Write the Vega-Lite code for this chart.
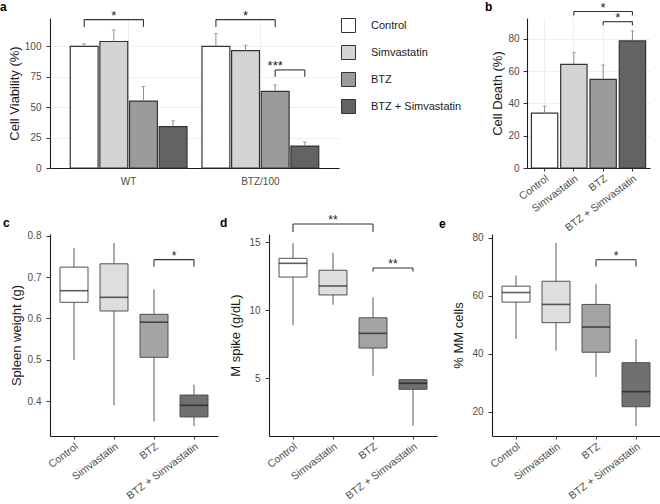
{
  "$schema": "https://vega.github.io/schema/vega-lite/v6.json",
  "padding": {"left": 0, "top": 0, "right": 0, "bottom": 0},
  "background": "white",
  "datasets": {
    "viab": [
      {"group": "WT", "treatment": "Control", "mean": 100, "upper": 102},
      {"group": "WT", "treatment": "Simvastatin", "mean": 104, "upper": 113.5},
      {"group": "WT", "treatment": "BTZ", "mean": 55, "upper": 67},
      {"group": "WT", "treatment": "BTZ + Simvastatin", "mean": 34, "upper": 38.8},
      {"group": "BTZ/100", "treatment": "Control", "mean": 100, "upper": 110.5},
      {"group": "BTZ/100", "treatment": "Simvastatin", "mean": 96.5, "upper": 101},
      {"group": "BTZ/100", "treatment": "BTZ", "mean": 63, "upper": 68.3},
      {"group": "BTZ/100", "treatment": "BTZ + Simvastatin", "mean": 18, "upper": 21.4}
    ],
    "bracketsA": [
      {"group": "WT", "from": "Control", "to": "BTZ", "mid": "Simvastatin", "top": 122, "low": 116, "label": "*"},
      {"group": "BTZ/100", "from": "Control", "to": "BTZ", "mid": "Simvastatin", "top": 122, "low": 116, "label": "*"},
      {"group": "BTZ/100", "from": "BTZ", "to": "BTZ + Simvastatin", "mid": null, "top": 80.6, "low": 75, "label": "***"}
    ],
    "death": [
      {"treatment": "Control", "mean": 34, "upper": 38.4},
      {"treatment": "Simvastatin", "mean": 64.3, "upper": 71.5},
      {"treatment": "BTZ", "mean": 55, "upper": 63.9},
      {"treatment": "BTZ + Simvastatin", "mean": 78.8, "upper": 85}
    ],
    "bracketsB": [
      {"from": "Simvastatin", "to": "BTZ + Simvastatin", "mid": "BTZ", "top": 97, "low": 94.5, "label": "*"},
      {"from": "BTZ", "to": "BTZ + Simvastatin", "mid": null, "top": 90.7, "low": 88.5, "label": "*"}
    ],
    "spleen": [
      {"treatment": "Control", "min": 0.50, "q1": 0.639, "median": 0.667, "q3": 0.724, "max": 0.770},
      {"treatment": "Simvastatin", "min": 0.390, "q1": 0.618, "median": 0.651, "q3": 0.732, "max": 0.782},
      {"treatment": "BTZ", "min": 0.351, "q1": 0.506, "median": 0.591, "q3": 0.610, "max": 0.670},
      {"treatment": "BTZ + Simvastatin", "min": 0.340, "q1": 0.362, "median": 0.390, "q3": 0.415, "max": 0.440}
    ],
    "bracketsC": [
      {"from": "BTZ", "to": "BTZ + Simvastatin", "mid": null, "top": 0.742, "low": 0.725, "label": "*"}
    ],
    "mspike": [
      {"treatment": "Control", "min": 8.9, "q1": 12.44, "median": 13.45, "q3": 13.82, "max": 14.93},
      {"treatment": "Simvastatin", "min": 10.4, "q1": 11.12, "median": 11.78, "q3": 12.94, "max": 14.23},
      {"treatment": "BTZ", "min": 5.17, "q1": 7.21, "median": 8.29, "q3": 9.44, "max": 10.95},
      {"treatment": "BTZ + Simvastatin", "min": 1.48, "q1": 4.17, "median": 4.61, "q3": 4.88, "max": 4.93}
    ],
    "bracketsD": [
      {"from": "Control", "to": "BTZ", "mid": "Simvastatin", "top": 16.35, "low": 15.75, "label": "**"},
      {"from": "BTZ", "to": "BTZ + Simvastatin", "mid": null, "top": 13.1, "low": 12.85, "label": "**"}
    ],
    "mm": [
      {"treatment": "Control", "min": 45.1, "q1": 57.8, "median": 61.1, "q3": 63.3, "max": 67.0},
      {"treatment": "Simvastatin", "min": 41, "q1": 50.7, "median": 57, "q3": 65, "max": 78.2},
      {"treatment": "BTZ", "min": 32, "q1": 40.5, "median": 49.2, "q3": 57, "max": 64.1},
      {"treatment": "BTZ + Simvastatin", "min": 15, "q1": 21.7, "median": 26.9, "q3": 36.9, "max": 45}
    ],
    "bracketsE": [
      {"from": "BTZ", "to": "BTZ + Simvastatin", "mid": null, "top": 72.4, "low": 70.1, "label": "*"}
    ]
  },
  "config": {
    "font": "Liberation Sans",
    "view": {"stroke": null},
    "axis": {
      "domainColor": "#1a1a1a", "domainWidth": 1.1, "tickColor": "#333333", "tickSize": 4, "tickWidth": 1,
      "labelColor": "#4d4d4d", "labelFontSize": 10, "labelFont": "Liberation Sans",
      "titleFontSize": 13, "titleFontWeight": "normal", "titleColor": "#1a1a1a", "titleFont": "Liberation Sans",
      "gridColor": "#ebebeb", "gridWidth": 0.8, "labelPadding": 4, "titlePadding": 4
    },
    "title": {"fontSize": 12, "fontWeight": "bold", "anchor": "start", "frame": "group", "color": "#000000", "font": "Liberation Sans"},
    "text": {"font": "Liberation Sans"}
  },
  "resolve": {"scale": {"fill": "independent", "x": "independent", "y": "independent"}},
  "spacing": -22,
  "vconcat": [
    {
      "spacing": 23,
      "resolve": {"scale": {"fill": "independent", "x": "independent", "y": "independent"}},
      "hconcat": [
        {
          "width": 289, "height": 150,
          "title": {"text": "a", "dx": -50, "offset": -4},
          "layer": [
            {
              "data": {"name": "viab"},
              "mark": {"type": "bar", "stroke": "#333333", "strokeWidth": 1.2},
              "encoding": {
                "x": {"field": "group", "type": "nominal", "scale": {"domain": ["WT", "BTZ/100"], "paddingInner": 0.1, "paddingOuter": 0.147},
                      "axis": {"title": null, "labelAngle": 0, "ticks": false, "tickSize": 0, "labelPadding": 8, "grid": true, "bandPosition": 0.5}},
                "xOffset": {"field": "treatment", "type": "nominal", "scale": {"domain": ["Control", "Simvastatin", "BTZ", "BTZ + Simvastatin"], "paddingInner": 0.06, "paddingOuter": 0.03}},
                "y": {"field": "mean", "type": "quantitative", "stack": null, "scale": {"domain": [0, 123.3], "nice": false},
                      "axis": {"title": "Cell Viability (%)", "values": [0, 25, 50, 75, 100], "grid": true, "labelPadding": 5, "titlePadding": 3}},
                "fill": {"field": "treatment", "type": "nominal",
                         "scale": {"domain": ["Control", "Simvastatin", "BTZ", "BTZ + Simvastatin"], "range": ["#ffffff", "#d4d4d4", "#9b9b9b", "#636363"]},
                         "legend": {"title": null, "orient": "right", "offset": 2, "padding": 0, "symbolType": "square", "symbolSize": 196,
                                    "symbolStrokeColor": "#333333", "symbolStrokeWidth": 1, "labelFontSize": 11, "labelColor": "#1a1a1a",
                                    "labelOffset": 15, "rowPadding": 8}}
              }
            },
            {
              "data": {"name": "viab"},
              "mark": {"type": "rule", "color": "#808080", "strokeWidth": 0.9},
              "encoding": {
                "x": {"field": "group", "type": "nominal"},
                "xOffset": {"field": "treatment", "type": "nominal"},
                "y": {"field": "mean", "type": "quantitative",
                      "axis": {"title": "Cell Viability (%)", "values": [0, 25, 50, 75, 100], "grid": true, "labelPadding": 5, "titlePadding": 3}},
                "y2": {"field": "upper"}
              }
            },
            {
              "data": {"name": "viab"},
              "mark": {"type": "tick", "color": "#808080", "thickness": 0.9, "size": 4},
              "encoding": {
                "x": {"field": "group", "type": "nominal"},
                "xOffset": {"field": "treatment", "type": "nominal"},
                "y": {"field": "upper", "type": "quantitative",
                      "axis": {"title": "Cell Viability (%)", "values": [0, 25, 50, 75, 100], "grid": true, "labelPadding": 5, "titlePadding": 3}}
              }
            },
            {
              "data": {"name": "bracketsA"},
              "mark": {"type": "rule", "color": "#333333", "strokeWidth": 1.1},
              "encoding": {
                "x": {"field": "group", "type": "nominal"},
                "xOffset": {"field": "from", "type": "nominal"},
                "y": {"field": "top", "type": "quantitative",
                      "axis": {"title": "Cell Viability (%)", "values": [0, 25, 50, 75, 100], "grid": true, "labelPadding": 5, "titlePadding": 3}},
                "y2": {"field": "low"}
              }
            },
            {
              "data": {"name": "bracketsA"},
              "mark": {"type": "rule", "color": "#333333", "strokeWidth": 1.1},
              "encoding": {
                "x": {"field": "group", "type": "nominal"},
                "xOffset": {"field": "to", "type": "nominal"},
                "y": {"field": "top", "type": "quantitative",
                      "axis": {"title": "Cell Viability (%)", "values": [0, 25, 50, 75, 100], "grid": true, "labelPadding": 5, "titlePadding": 3}},
                "y2": {"field": "low"}
              }
            },
            {
              "data": {"name": "bracketsA"},
              "transform": [{"fold": ["from", "to"], "as": ["end", "trt"]}],
              "mark": {"type": "line", "color": "#333333", "strokeWidth": 1.1},
              "encoding": {
                "x": {"field": "group", "type": "nominal"},
                "xOffset": {"field": "trt", "type": "nominal"},
                "y": {"field": "top", "type": "quantitative",
                      "axis": {"title": "Cell Viability (%)", "values": [0, 25, 50, 75, 100], "grid": true, "labelPadding": 5, "titlePadding": 3}},
                "detail": [{"field": "group"}, {"field": "label"}],
                "order": {"field": "end"}
              }
            },
            {
              "data": {"name": "bracketsA"},
              "transform": [{"filter": "isValid(datum.mid)"}],
              "mark": {"type": "text", "fontSize": 13, "baseline": "alphabetic", "color": "#1a1a1a"},
              "encoding": {
                "x": {"field": "group", "type": "nominal"},
                "xOffset": {"field": "mid", "type": "nominal"},
                "y": {"field": "top", "type": "quantitative",
                      "axis": {"title": "Cell Viability (%)", "values": [0, 25, 50, 75, 100], "grid": true, "labelPadding": 5, "titlePadding": 3}},
                "text": {"field": "label"}
              }
            },
            {
              "data": {"name": "bracketsA"},
              "transform": [{"filter": "!isValid(datum.mid)"}],
              "mark": {"type": "text", "fontSize": 13, "baseline": "alphabetic", "color": "#1a1a1a"},
              "encoding": {
                "x": {"field": "group", "type": "nominal"},
                "xOffset": {"field": "from", "type": "nominal", "bandPosition": 1.032},
                "y": {"field": "top", "type": "quantitative",
                      "axis": {"title": "Cell Viability (%)", "values": [0, 25, 50, 75, 100], "grid": true, "labelPadding": 5, "titlePadding": 3}},
                "text": {"field": "label"}
              }
            }
          ]
        },
        {
          "width": 123, "height": 150,
          "title": {"text": "b", "dx": -42, "offset": -12},
          "layer": [
            {
              "data": {"name": "death"},
              "mark": {"type": "bar", "stroke": "#333333", "strokeWidth": 1.2},
              "encoding": {
                "x": {"field": "treatment", "type": "nominal", "scale": {"domain": ["Control", "Simvastatin", "BTZ", "BTZ + Simvastatin"], "paddingInner": 0.1, "paddingOuter": 0.15},
                      "axis": {"title": null, "labelAngle": -37, "labelAlign": "right", "labelBaseline": "top", "tickSize": 3, "labelPadding": 2, "grid": true, "bandPosition": 0.5, "labelFontSize": 10.5}},
                "y": {"field": "mean", "type": "quantitative", "stack": null, "scale": {"domain": [0, 93], "nice": false},
                      "axis": {"title": "Cell Death (%)", "values": [0, 20, 40, 60, 80], "grid": true, "labelPadding": 4, "titlePadding": 3}},
                "fill": {"field": "treatment", "type": "nominal",
                         "scale": {"domain": ["Control", "Simvastatin", "BTZ", "BTZ + Simvastatin"], "range": ["#ffffff", "#d4d4d4", "#9b9b9b", "#636363"]},
                         "legend": null}
              }
            },
            {
              "data": {"name": "death"},
              "mark": {"type": "rule", "color": "#808080", "strokeWidth": 0.9},
              "encoding": {
                "x": {"field": "treatment", "type": "nominal"},
                "y": {"field": "mean", "type": "quantitative",
                      "axis": {"title": "Cell Death (%)", "values": [0, 20, 40, 60, 80], "grid": true, "labelPadding": 4, "titlePadding": 3}},
                "y2": {"field": "upper"}
              }
            },
            {
              "data": {"name": "death"},
              "mark": {"type": "tick", "color": "#808080", "thickness": 0.9, "size": 4},
              "encoding": {
                "x": {"field": "treatment", "type": "nominal"},
                "y": {"field": "upper", "type": "quantitative",
                      "axis": {"title": "Cell Death (%)", "values": [0, 20, 40, 60, 80], "grid": true, "labelPadding": 4, "titlePadding": 3}}
              }
            },
            {
              "data": {"name": "bracketsB"},
              "mark": {"type": "rule", "color": "#333333", "strokeWidth": 1.1},
              "encoding": {
                "x": {"field": "from", "type": "nominal"},
                "x2": {"field": "to"},
                "y": {"field": "top", "type": "quantitative",
                      "axis": {"title": "Cell Death (%)", "values": [0, 20, 40, 60, 80], "grid": true, "labelPadding": 4, "titlePadding": 3}}
              }
            },
            {
              "data": {"name": "bracketsB"},
              "mark": {"type": "rule", "color": "#333333", "strokeWidth": 1.1},
              "encoding": {
                "x": {"field": "from", "type": "nominal"},
                "y": {"field": "top", "type": "quantitative",
                      "axis": {"title": "Cell Death (%)", "values": [0, 20, 40, 60, 80], "grid": true, "labelPadding": 4, "titlePadding": 3}},
                "y2": {"field": "low"}
              }
            },
            {
              "data": {"name": "bracketsB"},
              "mark": {"type": "rule", "color": "#333333", "strokeWidth": 1.1},
              "encoding": {
                "x": {"field": "to", "type": "nominal"},
                "y": {"field": "top", "type": "quantitative",
                      "axis": {"title": "Cell Death (%)", "values": [0, 20, 40, 60, 80], "grid": true, "labelPadding": 4, "titlePadding": 3}},
                "y2": {"field": "low"}
              }
            },
            {
              "data": {"name": "bracketsB"},
              "transform": [{"filter": "isValid(datum.mid)"}],
              "mark": {"type": "text", "fontSize": 13, "baseline": "alphabetic", "color": "#1a1a1a"},
              "encoding": {
                "x": {"field": "mid", "type": "nominal"},
                "y": {"field": "top", "type": "quantitative",
                      "axis": {"title": "Cell Death (%)", "values": [0, 20, 40, 60, 80], "grid": true, "labelPadding": 4, "titlePadding": 3}},
                "text": {"field": "label"}
              }
            },
            {
              "data": {"name": "bracketsB"},
              "transform": [{"filter": "!isValid(datum.mid)"}],
              "mark": {"type": "text", "fontSize": 13, "baseline": "alphabetic", "color": "#1a1a1a"},
              "encoding": {
                "x": {"field": "from", "type": "nominal", "bandPosition": 1.0556},
                "y": {"field": "top", "type": "quantitative",
                      "axis": {"title": "Cell Death (%)", "values": [0, 20, 40, 60, 80], "grid": true, "labelPadding": 4, "titlePadding": 3}},
                "text": {"field": "label"}
              }
            }
          ]
        }
      ]
    },
    {
      "spacing": 2,
      "resolve": {"scale": {"fill": "independent", "x": "independent", "y": "independent"}},
      "hconcat": [
        {
          "width": 168, "height": 202,
          "title": {"text": "c", "dx": -47, "offset": 1},
          "layer": [
            {
              "data": {"name": "spleen"},
              "mark": {"type": "rule", "color": "#595959", "strokeWidth": 1},
              "encoding": {
                "x": {"field": "treatment", "type": "nominal", "scale": {"domain": ["Control", "Simvastatin", "BTZ", "BTZ + Simvastatin"], "paddingInner": 0, "paddingOuter": 0.1},
                      "axis": {"title": null, "labelAngle": -37, "labelAlign": "right", "labelBaseline": "top", "tickSize": 3, "labelPadding": 2, "grid": false, "bandPosition": 0.5, "labelFontSize": 10.5}},
                "y": {"field": "min", "type": "quantitative", "scale": {"domain": [0.316, 0.804], "nice": false, "zero": false},
                      "axis": {"title": "Spleen weight (g)", "values": [0.4, 0.5, 0.6, 0.7, 0.8], "format": ".1f", "grid": false, "labelPadding": 5, "titlePadding": 4}},
                "y2": {"field": "max"}
              }
            },
            {
              "data": {"name": "spleen"},
              "mark": {"type": "bar", "stroke": "#505050", "strokeWidth": 1, "width": {"band": 0.7}},
              "encoding": {
                "x": {"field": "treatment", "type": "nominal"},
                "y": {"field": "q1", "type": "quantitative"},
                "y2": {"field": "q3"},
                "fill": {"field": "treatment", "type": "nominal", "scale": {"domain": ["Control", "Simvastatin", "BTZ", "BTZ + Simvastatin"], "range": ["#ffffff", "#dedede", "#a4a4a4", "#707070"]}, "legend": null}
              }
            },
            {
              "data": {"name": "spleen"},
              "mark": {"type": "tick", "color": "#1a1a1a", "thickness": 1.6, "size": 28},
              "encoding": {
                "x": {"field": "treatment", "type": "nominal"},
                "y": {"field": "median", "type": "quantitative"}
              }
            },
            {
              "data": {"name": "bracketsC"},
              "mark": {"type": "rule", "color": "#333333", "strokeWidth": 1.1},
              "encoding": {"x": {"field": "from", "type": "nominal"}, "x2": {"field": "to"}, "y": {"field": "top", "type": "quantitative"}}
            },
            {
              "data": {"name": "bracketsC"},
              "mark": {"type": "rule", "color": "#333333", "strokeWidth": 1.1},
              "encoding": {"x": {"field": "from", "type": "nominal"}, "y": {"field": "top", "type": "quantitative"}, "y2": {"field": "low"}}
            },
            {
              "data": {"name": "bracketsC"},
              "mark": {"type": "rule", "color": "#333333", "strokeWidth": 1.1},
              "encoding": {"x": {"field": "to", "type": "nominal"}, "y": {"field": "top", "type": "quantitative"}, "y2": {"field": "low"}}
            },
            {
              "data": {"name": "bracketsC"},
              "mark": {"type": "text", "fontSize": 12, "baseline": "alphabetic", "color": "#1a1a1a"},
              "encoding": {"x": {"field": "from", "type": "nominal", "bandPosition": 1}, "y": {"field": "top", "type": "quantitative"}, "text": {"field": "label"}}
            }
          ]
        },
        {
          "width": 168, "height": 202,
          "title": {"text": "d", "dx": -49, "offset": -16},
          "layer": [
            {
              "data": {"name": "mspike"},
              "mark": {"type": "rule", "color": "#595959", "strokeWidth": 1},
              "encoding": {
                "x": {"field": "treatment", "type": "nominal", "scale": {"domain": ["Control", "Simvastatin", "BTZ", "BTZ + Simvastatin"], "paddingInner": 0, "paddingOuter": 0.1},
                      "axis": {"title": null, "labelAngle": -37, "labelAlign": "right", "labelBaseline": "top", "tickSize": 3, "labelPadding": 2, "grid": false, "bandPosition": 0.5, "labelFontSize": 10.5}},
                "y": {"field": "min", "type": "quantitative", "scale": {"domain": [0.73, 15.61], "nice": false, "zero": false},
                      "axis": {"title": "M spike (g/dL)", "values": [5, 10, 15], "grid": false, "labelPadding": 5, "titlePadding": 6}},
                "y2": {"field": "max"}
              }
            },
            {
              "data": {"name": "mspike"},
              "mark": {"type": "bar", "stroke": "#505050", "strokeWidth": 1, "width": {"band": 0.7}},
              "encoding": {
                "x": {"field": "treatment", "type": "nominal"},
                "y": {"field": "q1", "type": "quantitative"},
                "y2": {"field": "q3"},
                "fill": {"field": "treatment", "type": "nominal", "scale": {"domain": ["Control", "Simvastatin", "BTZ", "BTZ + Simvastatin"], "range": ["#ffffff", "#dedede", "#a4a4a4", "#707070"]}, "legend": null}
              }
            },
            {
              "data": {"name": "mspike"},
              "mark": {"type": "tick", "color": "#1a1a1a", "thickness": 1.6, "size": 28},
              "encoding": {
                "x": {"field": "treatment", "type": "nominal"},
                "y": {"field": "median", "type": "quantitative"}
              }
            },
            {
              "data": {"name": "bracketsD"},
              "mark": {"type": "rule", "color": "#333333", "strokeWidth": 1.1},
              "encoding": {"x": {"field": "from", "type": "nominal"}, "x2": {"field": "to"}, "y": {"field": "top", "type": "quantitative"}}
            },
            {
              "data": {"name": "bracketsD"},
              "mark": {"type": "rule", "color": "#333333", "strokeWidth": 1.1},
              "encoding": {"x": {"field": "from", "type": "nominal"}, "y": {"field": "top", "type": "quantitative"}, "y2": {"field": "low"}}
            },
            {
              "data": {"name": "bracketsD"},
              "mark": {"type": "rule", "color": "#333333", "strokeWidth": 1.1},
              "encoding": {"x": {"field": "to", "type": "nominal"}, "y": {"field": "top", "type": "quantitative"}, "y2": {"field": "low"}}
            },
            {
              "data": {"name": "bracketsD"},
              "transform": [{"filter": "isValid(datum.mid)"}],
              "mark": {"type": "text", "fontSize": 12, "baseline": "alphabetic", "color": "#1a1a1a"},
              "encoding": {"x": {"field": "mid", "type": "nominal"}, "y": {"field": "top", "type": "quantitative"}, "text": {"field": "label"}}
            },
            {
              "data": {"name": "bracketsD"},
              "transform": [{"filter": "!isValid(datum.mid)"}],
              "mark": {"type": "text", "fontSize": 12, "baseline": "alphabetic", "color": "#1a1a1a"},
              "encoding": {"x": {"field": "from", "type": "nominal", "bandPosition": 1}, "y": {"field": "top", "type": "quantitative"}, "text": {"field": "label"}}
            }
          ]
        },
        {
          "width": 168, "height": 202,
          "title": {"text": "e", "dx": -53, "offset": 2},
          "layer": [
            {
              "data": {"name": "mm"},
              "mark": {"type": "rule", "color": "#595959", "strokeWidth": 1},
              "encoding": {
                "x": {"field": "treatment", "type": "nominal", "scale": {"domain": ["Control", "Simvastatin", "BTZ", "BTZ + Simvastatin"], "paddingInner": 0, "paddingOuter": 0.1},
                      "axis": {"title": null, "labelAngle": -37, "labelAlign": "right", "labelBaseline": "top", "tickSize": 3, "labelPadding": 2, "grid": false, "bandPosition": 0.5, "labelFontSize": 10.5}},
                "y": {"field": "min", "type": "quantitative", "scale": {"domain": [11.6, 81.3], "nice": false, "zero": false},
                      "axis": {"title": "% MM cells", "values": [20, 40, 60, 80], "grid": false, "labelPadding": 5, "titlePadding": 6}},
                "y2": {"field": "max"}
              }
            },
            {
              "data": {"name": "mm"},
              "mark": {"type": "bar", "stroke": "#505050", "strokeWidth": 1, "width": {"band": 0.7}},
              "encoding": {
                "x": {"field": "treatment", "type": "nominal"},
                "y": {"field": "q1", "type": "quantitative"},
                "y2": {"field": "q3"},
                "fill": {"field": "treatment", "type": "nominal", "scale": {"domain": ["Control", "Simvastatin", "BTZ", "BTZ + Simvastatin"], "range": ["#ffffff", "#dedede", "#a4a4a4", "#707070"]}, "legend": null}
              }
            },
            {
              "data": {"name": "mm"},
              "mark": {"type": "tick", "color": "#1a1a1a", "thickness": 1.6, "size": 28},
              "encoding": {
                "x": {"field": "treatment", "type": "nominal"},
                "y": {"field": "median", "type": "quantitative"}
              }
            },
            {
              "data": {"name": "bracketsE"},
              "mark": {"type": "rule", "color": "#333333", "strokeWidth": 1.1},
              "encoding": {"x": {"field": "from", "type": "nominal"}, "x2": {"field": "to"}, "y": {"field": "top", "type": "quantitative"}}
            },
            {
              "data": {"name": "bracketsE"},
              "mark": {"type": "rule", "color": "#333333", "strokeWidth": 1.1},
              "encoding": {"x": {"field": "from", "type": "nominal"}, "y": {"field": "top", "type": "quantitative"}, "y2": {"field": "low"}}
            },
            {
              "data": {"name": "bracketsE"},
              "mark": {"type": "rule", "color": "#333333", "strokeWidth": 1.1},
              "encoding": {"x": {"field": "to", "type": "nominal"}, "y": {"field": "top", "type": "quantitative"}, "y2": {"field": "low"}}
            },
            {
              "data": {"name": "bracketsE"},
              "mark": {"type": "text", "fontSize": 12, "baseline": "alphabetic", "color": "#1a1a1a"},
              "encoding": {"x": {"field": "from", "type": "nominal", "bandPosition": 1}, "y": {"field": "top", "type": "quantitative"}, "text": {"field": "label"}}
            }
          ]
        }
      ]
    }
  ]
}
